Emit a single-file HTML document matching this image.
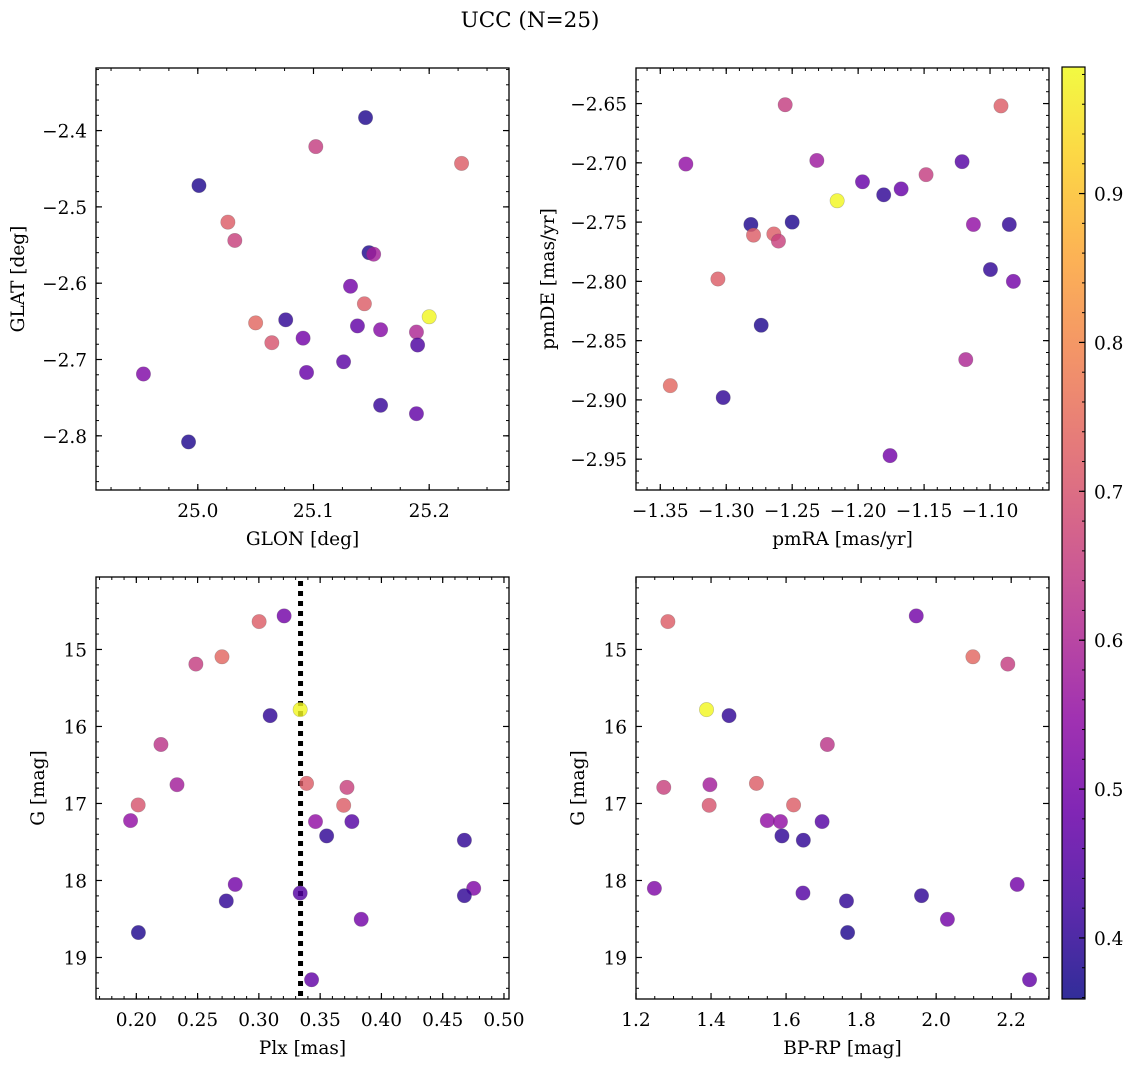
<!DOCTYPE html>
<html><head><meta charset="utf-8"><style>
html,body{margin:0;padding:0;background:#fff}
svg{display:block;font-family:"DejaVu Serif","Liberation Serif",serif}
</style></head><body>
<svg id="fig" width="1136" height="1067" viewBox="0 0 1136 1067" xmlns="http://www.w3.org/2000/svg">
<text x="530" y="27" text-anchor="middle" font-size="21.5">UCC (N=25)</text>
</svg>
<script>
// ---- Panel 1: GLON vs GLAT ----
const glon = [25.145,25.102,25.228,25.001,25.026,25.032,25.148,25.152,25.132,25.144,25.200,25.050,25.076,25.138,25.158,25.189,25.064,25.091,25.190,25.126,24.953,25.094,25.158,25.189,24.992];
const glat = [-2.383,-2.421,-2.443,-2.472,-2.520,-2.544,-2.560,-2.562,-2.604,-2.627,-2.644,-2.652,-2.648,-2.656,-2.661,-2.664,-2.678,-2.672,-2.681,-2.703,-2.719,-2.717,-2.760,-2.771,-2.808];
const probPos = [0.38,0.65,0.72,0.38,0.72,0.66,0.38,0.58,0.50,0.72,0.98,0.74,0.40,0.47,0.53,0.60,0.70,0.50,0.44,0.46,0.52,0.48,0.41,0.47,0.38];
const glonTicks = [25.0,25.1,25.2];
const glatTicks = [-2.4,-2.5,-2.6,-2.7,-2.8];
// ---- Panel 2: pmRA vs pmDE ----
const pmra = [-1.2553,-1.0917,-1.3306,-1.2313,-1.1212,-1.1485,-1.1967,-1.1806,-1.1674,-1.2159,-1.2813,-1.2500,-1.2793,-1.2639,-1.2604,-1.1126,-1.0854,-1.0997,-1.0823,-1.3063,-1.2735,-1.1184,-1.3424,-1.3023,-1.1758];
const pmde = [-2.651,-2.652,-2.701,-2.698,-2.699,-2.710,-2.716,-2.727,-2.722,-2.732,-2.752,-2.750,-2.761,-2.760,-2.766,-2.752,-2.752,-2.790,-2.800,-2.798,-2.837,-2.866,-2.888,-2.898,-2.947];
const probPm = [0.65,0.72,0.55,0.57,0.45,0.65,0.48,0.40,0.48,0.98,0.38,0.38,0.72,0.72,0.66,0.55,0.40,0.40,0.50,0.72,0.38,0.60,0.74,0.40,0.50];
const pmraTicks = [-1.35,-1.30,-1.25,-1.20,-1.15,-1.10];
const pmdeTicks = [-2.65,-2.70,-2.75,-2.80,-2.85,-2.90,-2.95];
// ---- Panel 3: Plx vs G ----
const plx = [0.3206,0.3002,0.2699,0.2486,0.3337,0.3092,0.2201,0.2332,0.3389,0.3719,0.2015,0.3692,0.1953,0.3462,0.3759,0.3553,0.4677,0.2807,0.4753,0.3337,0.2734,0.4677,0.3835,0.2017,0.3430];
const gPlx = [14.564,14.638,15.095,15.19,15.781,15.859,16.234,16.756,16.739,16.791,17.019,17.024,17.222,17.235,17.235,17.421,17.477,18.051,18.102,18.163,18.266,18.197,18.504,18.676,19.289];
const probPlx = [0.50,0.72,0.74,0.65,0.98,0.40,0.63,0.58,0.72,0.66,0.70,0.72,0.55,0.55,0.45,0.40,0.40,0.50,0.52,0.45,0.40,0.40,0.50,0.38,0.47];
const plxRef = [0.334];
const plxTicks = [0.20,0.25,0.30,0.35,0.40,0.45,0.50];
const gTicks = [15,16,17,18,19];
// ---- Panel 4: BP-RP vs G ----
const bprp = [1.285,1.947,2.098,2.191,1.388,1.448,1.710,1.274,1.397,1.521,1.395,1.620,1.550,1.585,1.696,1.589,1.646,1.249,1.645,2.216,1.761,1.961,2.030,1.764,2.249];
const gCmd = [14.638,14.564,15.095,15.19,15.781,15.859,16.234,16.791,16.756,16.739,17.024,17.019,17.222,17.235,17.235,17.421,17.477,18.102,18.163,18.051,18.266,18.197,18.504,18.676,19.289];
const probCmd = [0.72,0.50,0.74,0.65,0.98,0.40,0.63,0.66,0.58,0.72,0.70,0.72,0.55,0.55,0.45,0.40,0.40,0.52,0.45,0.50,0.40,0.40,0.50,0.38,0.47];
const bprpTicks = [1.2,1.4,1.6,1.8,2.0,2.2];
// ---- Colorbar ----
const cbTicks = [0.4,0.5,0.6,0.7,0.8,0.9];
const cbRange = [0.359,0.985];

const NS="http://www.w3.org/2000/svg";
const fig=document.getElementById('fig');
const FS=18.5;
function el(tag,attrs,parent){const e=document.createElementNS(NS,tag);for(const k in attrs)e.setAttribute(k,attrs[k]);(parent||fig).appendChild(e);return e;}
const stops=[[13,8,135],[65,4,157],[106,0,168],[143,13,164],[177,42,144],[204,71,120],[225,100,98],[242,132,75],[252,166,54],[252,206,37],[240,249,33]];
function plasma(t){t=Math.max(0,Math.min(1,t));const f=t*10,i=Math.min(9,Math.floor(f)),r=f-i;const a=stops[i],b=stops[i+1];return 'rgb('+a.map((v,k)=>Math.round(v+(b[k]-v)*r)).join(',')+')';}
function cnorm(v){return (v-cbRange[0])/(cbRange[1]-cbRange[0]);}
function fmt(v,d){return (v<0?'\u2212':'')+Math.abs(v).toFixed(d);}

function panel(cfg){
  const {name,x0,x1,y0,y1,xd,yd,xt,yt,xmin,ymin,xdec,ydec,xs,ys,cs,xlabel,ylabel,ylabx}=cfg;
  const g=el('g',{});
  
  
  const sx=v=>x0+(v-xd[0])/(xd[1]-xd[0])*(x1-x0);
  const sy=v=>y0+(v-yd[0])/(yd[1]-yd[0])*(y1-y0);
  const eps=1e-9;
  const xa=Math.min(xd[0],xd[1]),xb=Math.max(xd[0],xd[1]);
  for(let v=Math.ceil(xa/xmin-eps)*xmin;v<=xb+eps;v+=xmin){const px=sx(v);
    el('line',{x1:px,x2:px,y1:y1,y2:y1-3,stroke:'#000','stroke-width':1},g);
    el('line',{x1:px,x2:px,y1:y0,y2:y0+3,stroke:'#000','stroke-width':1},g);}
  const ya=Math.min(yd[0],yd[1]),yb=Math.max(yd[0],yd[1]);
  for(let v=Math.ceil(ya/ymin-eps)*ymin;v<=yb+eps;v+=ymin){const py=sy(v);
    el('line',{x1:x0,x2:x0+3,y1:py,y2:py,stroke:'#000','stroke-width':1},g);
    el('line',{x1:x1,x2:x1-3,y1:py,y2:py,stroke:'#000','stroke-width':1},g);}
  xt.forEach(v=>{const px=sx(v);
    el('line',{x1:px,x2:px,y1:y1,y2:y1-6,stroke:'#000','stroke-width':1.2},g);
    el('line',{x1:px,x2:px,y1:y0,y2:y0+6,stroke:'#000','stroke-width':1.2},g);
    const t=el('text',{x:px,y:y1+27,'text-anchor':'middle','font-size':FS},g);t.textContent=fmt(v,xdec);
    
    });
  yt.forEach(v=>{const py=sy(v);
    el('line',{x1:x0,x2:x0+6,y1:py,y2:py,stroke:'#000','stroke-width':1.2},g);
    el('line',{x1:x1,x2:x1-6,y1:py,y2:py,stroke:'#000','stroke-width':1.2},g);
    const t=el('text',{x:x0-9,y:py+7,'text-anchor':'end','font-size':FS},g);t.textContent=fmt(v,ydec);
    
    });
  if(cfg.vline){const px=sx(cfg.vline[0]);
    const l=el('line',{x1:px,x2:px,y1:y0+4,y2:y1,stroke:'#000','stroke-width':5,'stroke-dasharray':'5 5'},g);
    
    }
  xs.forEach((v,i)=>{
    const c=el('circle',{cx:sx(v),cy:sy(ys[i]),r:7.2,fill:plasma(cnorm(cs[i])),'fill-opacity':0.82,stroke:'#555','stroke-opacity':0.35,'stroke-width':0.6},g);
    
    });
  const box=el('rect',{x:x0,y:y0,width:x1-x0,height:y1-y0,fill:'none',stroke:'#000','stroke-width':1.3},g);
  
  
  const xl=el('text',{x:(x0+x1)/2,y:y1+55,'text-anchor':'middle','font-size':FS},g);xl.textContent=xlabel;
  
  
  const cy=(y0+y1)/2;
  const yl=el('text',{x:ylabx,y:cy,'text-anchor':'middle','font-size':FS,transform:'rotate(-90 '+ylabx+' '+cy+')'},g);yl.textContent=ylabel;
  
  
}

panel({name:'glon-glat',x0:96,x1:509,y0:68,y1:490,xd:[24.912,25.269],yd:[-2.318,-2.871],xt:glonTicks,yt:glatTicks,xmin:0.025,ymin:0.02,xdec:1,ydec:1,xs:glon,ys:glat,cs:probPos,xlabel:'GLON [deg]',ylabel:'GLAT [deg]',ylabx:24});
panel({name:'pm',x0:636,x1:1049,y0:68,y1:490,xd:[-1.3684,-1.0553],yd:[-2.620,-2.976],xt:pmraTicks,yt:pmdeTicks,xmin:0.01,ymin:0.01,xdec:2,ydec:2,xs:pmra,ys:pmde,cs:probPm,xlabel:'pmRA [mas/yr]',ylabel:'pmDE [mas/yr]',ylabx:554});
panel({name:'plx-g',x0:96,x1:509,y0:577,y1:999,xd:[0.1671,0.5041],yd:[14.059,19.539],xt:plxTicks,yt:gTicks,xmin:0.01,ymin:0.2,xdec:2,ydec:0,xs:plx,ys:gPlx,cs:probPlx,vline:plxRef,xlabel:'Plx [mas]',ylabel:'G [mag]',ylabx:44});
panel({name:'cmd',x0:636,x1:1049,y0:577,y1:999,xd:[1.2,2.3008],yd:[14.059,19.539],xt:bprpTicks,yt:gTicks,xmin:0.05,ymin:0.2,xdec:1,ydec:0,xs:bprp,ys:gCmd,cs:probCmd,xlabel:'BP-RP [mag]',ylabel:'G [mag]',ylabx:584});

(function(){
  const x0=1062,x1=1085,y0=67,y1=999;
  const g=el('g',{});
  
  
  const defs=el('defs',{},g);
  const lg=el('linearGradient',{id:'cbg',x1:0,y1:1,x2:0,y2:0},defs);
  for(let i=0;i<=20;i++){el('stop',{offset:(i/20),'stop-color':plasma(i/20),'stop-opacity':0.85},lg);}
  el('rect',{x:x0,y:y0,width:x1-x0,height:y1-y0,fill:'url(#cbg)'},g);
  const sy=v=>y1-(v-cbRange[0])/(cbRange[1]-cbRange[0])*(y1-y0);
  for(let v=0.36;v<=cbRange[1]+1e-9;v+=0.02){const py=sy(v);el('line',{x1:x1,x2:x1-3,y1:py,y2:py,stroke:'#000','stroke-width':1},g);}
  cbTicks.forEach(v=>{const py=sy(v);
    el('line',{x1:x1,x2:x1-6,y1:py,y2:py,stroke:'#000','stroke-width':1.2},g);
    const t=el('text',{x:x1+9,y:py+7,'font-size':FS},g);t.textContent=v.toFixed(1);
    
    });
  el('rect',{x:x0,y:y0,width:x1-x0,height:y1-y0,fill:'none',stroke:'#000','stroke-width':1.2},g);
})();
</script>
</body></html>
